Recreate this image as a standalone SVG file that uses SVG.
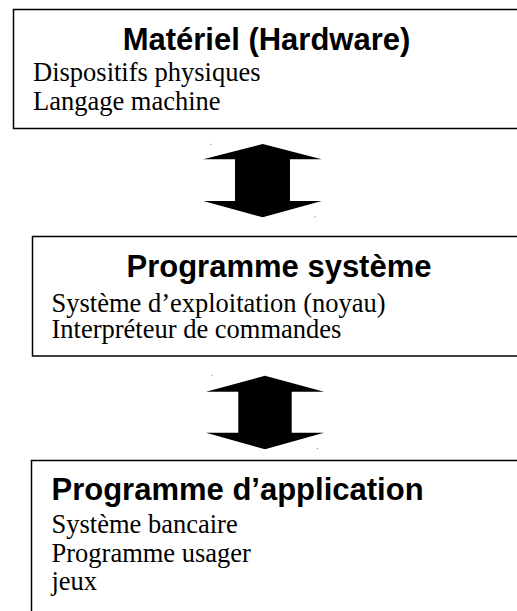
<svg xmlns="http://www.w3.org/2000/svg" width="517" height="611" viewBox="0 0 517 611">
<style>
.box{fill:#fff;stroke:#000;stroke-width:1.5}
.t{font-family:"Liberation Sans",Arial,sans-serif;font-weight:bold;font-size:31px;fill:#000}
.b{font-family:"Liberation Serif","Times New Roman",serif;font-size:26.5px;fill:#000}
.arr{fill:#000}
</style>
<rect width="517" height="611" fill="#fff"/>
<g id="node-materiel">
<rect class="box" x="13.5" y="9.5" width="520" height="119"/>
<text class="t" x="266.5" y="50" text-anchor="middle">Matériel (Hardware)</text>
<text class="b" x="33" y="80.5">Dispositifs physiques</text>
<text class="b" x="33" y="110">Langage machine</text>
</g>
<g id="node-systeme">
<rect class="box" x="32.5" y="236.5" width="500" height="119.5"/>
<text class="t" x="279" y="276.5" text-anchor="middle">Programme système</text>
<text class="b" x="51.5" y="312">Système d’exploitation (noyau)</text>
<text class="b" x="51.5" y="338">Interpréteur de commandes</text>
</g>
<g id="node-application">
<rect class="box" x="31.5" y="460.5" width="500" height="160"/>
<text class="t" x="51.5" y="499.5">Programme d’application</text>
<text class="b" x="51.5" y="532.5">Système bancaire</text>
<text class="b" x="51.5" y="561.5">Programme usager</text>
<text class="b" x="51.5" y="590">jeux</text>
</g>
<g id="connectors">
<polygon class="arr" points="262.7,144 321.7,159.3 290,159.3 290,201 321.7,201 262.7,217.3 203.3,201 235,201 235,159.3 203.3,159.3"/>
<polygon class="arr" points="265,375.7 324,391.7 291.7,391.7 291.7,432.7 324,432.7 265,449.3 206,432.7 238.3,432.7 238.3,391.7 206,391.7"/>
<rect x="210.5" y="143.8" width="1" height="1" fill="#000" opacity="0.6"/>
<rect x="314.5" y="216.3" width="1" height="1" fill="#000" opacity="0.6"/>
<rect x="211.8" y="375.2" width="1" height="1" fill="#000" opacity="0.6"/>
<rect x="316.8" y="448.2" width="1" height="1" fill="#000" opacity="0.6"/>
</g>
</svg>
